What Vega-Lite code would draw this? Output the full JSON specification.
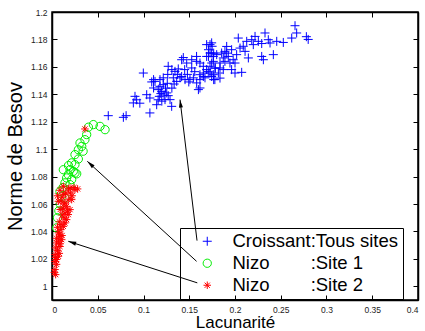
{
  "$schema": "https://vega.github.io/schema/vega-lite/v6.json",
  "width": 366,
  "height": 288,
  "autosize": "none",
  "padding": {"left": 52, "top": 12, "right": 7, "bottom": 31},
  "resolve": {"axis": {"x": "independent", "y": "independent"}},
  "config": {
    "view": {"stroke": "black", "strokeWidth": 1.5},
    "font": "Liberation Sans",
    "axis": {
      "grid": false,
      "domainColor": "black",
      "domainWidth": 1.5,
      "tickColor": "black",
      "tickWidth": 1,
      "tickSize": -5,
      "labelFont": "Liberation Sans",
      "labelFontSize": 8.5,
      "labelColor": "#222",
      "labelPadding": 10,
      "titleFont": "Liberation Sans",
      "titleFontWeight": "normal",
      "titleColor": "black"
    },
    "legend": {
      "orient": "none",
      "legendX": 128,
      "legendY": 216,
      "strokeColor": "black",
      "padding": 4,
      "labelFont": "Liberation Sans",
      "labelFontSize": 18.5,
      "labelColor": "black",
      "labelLimit": 400,
      "symbolStrokeWidth": 1,
      "symbolSize": 70,
      "rowPadding": 3,
      "symbolOffset": 14,
      "labelOffset": 16
    }
  },
  "datasets": {
    "pts": [
      {"serie":"C","lacunarite":0.0615,"besov":1.1244},
      {"serie":"C","lacunarite":0.078,"besov":1.1232},
      {"serie":"C","lacunarite":0.081,"besov":1.1244},
      {"serie":"C","lacunarite":0.0889,"besov":1.1337},
      {"serie":"C","lacunarite":0.0907,"besov":1.1385},
      {"serie":"C","lacunarite":0.0925,"besov":1.136},
      {"serie":"C","lacunarite":0.096,"besov":1.1335},
      {"serie":"C","lacunarite":0.107,"besov":1.1264},
      {"serie":"C","lacunarite":0.0998,"besov":1.1555},
      {"serie":"C","lacunarite":0.1035,"besov":1.1397},
      {"serie":"C","lacunarite":0.107,"besov":1.1373},
      {"serie":"C","lacunarite":0.111,"besov":1.1446},
      {"serie":"C","lacunarite":0.1126,"besov":1.1494},
      {"serie":"C","lacunarite":0.111,"besov":1.1507},
      {"serie":"C","lacunarite":0.109,"besov":1.149},
      {"serie":"C","lacunarite":0.1144,"besov":1.1324},
      {"serie":"C","lacunarite":0.116,"besov":1.136},
      {"serie":"C","lacunarite":0.12,"besov":1.135},
      {"serie":"C","lacunarite":0.118,"besov":1.1458},
      {"serie":"C","lacunarite":0.1199,"besov":1.1421},
      {"serie":"C","lacunarite":0.1216,"besov":1.147},
      {"serie":"C","lacunarite":0.118,"besov":1.1507},
      {"serie":"C","lacunarite":0.1173,"besov":1.1385},
      {"serie":"C","lacunarite":0.1235,"besov":1.1361},
      {"serie":"C","lacunarite":0.1254,"besov":1.141},
      {"serie":"C","lacunarite":0.1216,"besov":1.152},
      {"serie":"C","lacunarite":0.1162,"besov":1.1434},
      {"serie":"C","lacunarite":0.129,"besov":1.1361},
      {"serie":"C","lacunarite":0.1308,"besov":1.1312},
      {"serie":"C","lacunarite":0.127,"besov":1.139},
      {"serie":"C","lacunarite":0.127,"besov":1.1604},
      {"serie":"C","lacunarite":0.131,"besov":1.158},
      {"serie":"C","lacunarite":0.1344,"besov":1.1567},
      {"serie":"C","lacunarite":0.1399,"besov":1.152},
      {"serie":"C","lacunarite":0.1417,"besov":1.153},
      {"serie":"C","lacunarite":0.1454,"besov":1.1507},
      {"serie":"C","lacunarite":0.1508,"besov":1.1507},
      {"serie":"C","lacunarite":0.1545,"besov":1.152},
      {"serie":"C","lacunarite":0.1581,"besov":1.1483},
      {"serie":"C","lacunarite":0.1617,"besov":1.1507},
      {"serie":"C","lacunarite":0.1654,"besov":1.153},
      {"serie":"C","lacunarite":0.1708,"besov":1.1567},
      {"serie":"C","lacunarite":0.1727,"besov":1.1604},
      {"serie":"C","lacunarite":0.1527,"besov":1.1652},
      {"serie":"C","lacunarite":0.1581,"besov":1.164},
      {"serie":"C","lacunarite":0.1617,"besov":1.1628},
      {"serie":"C","lacunarite":0.1654,"besov":1.1604},
      {"serie":"C","lacunarite":0.169,"besov":1.1676},
      {"serie":"C","lacunarite":0.1727,"besov":1.1701},
      {"serie":"C","lacunarite":0.1417,"besov":1.1652},
      {"serie":"C","lacunarite":0.1472,"besov":1.1628},
      {"serie":"C","lacunarite":0.1527,"besov":1.1592},
      {"serie":"C","lacunarite":0.16,"besov":1.1434},
      {"serie":"C","lacunarite":0.1617,"besov":1.1543},
      {"serie":"C","lacunarite":0.1326,"besov":1.152},
      {"serie":"C","lacunarite":0.1363,"besov":1.1494},
      {"serie":"C","lacunarite":0.1435,"besov":1.1668},
      {"serie":"C","lacunarite":0.158,"besov":1.1676},
      {"serie":"C","lacunarite":0.169,"besov":1.1762},
      {"serie":"C","lacunarite":0.171,"besov":1.1725},
      {"serie":"C","lacunarite":0.171,"besov":1.1676},
      {"serie":"C","lacunarite":0.1617,"besov":1.1446},
      {"serie":"C","lacunarite":0.124,"besov":1.1445},
      {"serie":"C","lacunarite":0.126,"besov":1.148},
      {"serie":"C","lacunarite":0.1225,"besov":1.1395},
      {"serie":"C","lacunarite":0.119,"besov":1.1405},
      {"serie":"C","lacunarite":0.1335,"besov":1.1475},
      {"serie":"C","lacunarite":0.137,"besov":1.1545},
      {"serie":"C","lacunarite":0.148,"besov":1.1545},
      {"serie":"C","lacunarite":0.1495,"besov":1.149},
      {"serie":"C","lacunarite":0.156,"besov":1.1565},
      {"serie":"C","lacunarite":0.145,"besov":1.158},
      {"serie":"C","lacunarite":0.138,"besov":1.1585},
      {"serie":"C","lacunarite":0.1265,"besov":1.1545},
      {"serie":"C","lacunarite":0.131,"besov":1.1445},
      {"serie":"C","lacunarite":0.2656,"besov":1.19},
      {"serie":"C","lacunarite":0.2674,"besov":1.1847},
      {"serie":"C","lacunarite":0.278,"besov":1.182},
      {"serie":"C","lacunarite":0.28,"besov":1.18},
      {"serie":"C","lacunarite":0.262,"besov":1.181},
      {"serie":"C","lacunarite":0.2528,"besov":1.1778},
      {"serie":"C","lacunarite":0.2456,"besov":1.1786},
      {"serie":"C","lacunarite":0.2383,"besov":1.1774},
      {"serie":"C","lacunarite":0.2292,"besov":1.177},
      {"serie":"C","lacunarite":0.2328,"besov":1.1847},
      {"serie":"C","lacunarite":0.2219,"besov":1.1822},
      {"serie":"C","lacunarite":0.2183,"besov":1.1798},
      {"serie":"C","lacunarite":0.22,"besov":1.1762},
      {"serie":"C","lacunarite":0.209,"besov":1.175},
      {"serie":"C","lacunarite":0.211,"besov":1.1713},
      {"serie":"C","lacunarite":0.2036,"besov":1.181},
      {"serie":"C","lacunarite":0.2419,"besov":1.1689},
      {"serie":"C","lacunarite":0.2292,"besov":1.1676},
      {"serie":"C","lacunarite":0.231,"besov":1.1652},
      {"serie":"C","lacunarite":0.2146,"besov":1.1665},
      {"serie":"C","lacunarite":0.2073,"besov":1.156},
      {"serie":"C","lacunarite":0.2,"besov":1.1555},
      {"serie":"C","lacunarite":0.198,"besov":1.1652},
      {"serie":"C","lacunarite":0.1909,"besov":1.17},
      {"serie":"C","lacunarite":0.189,"besov":1.164},
      {"serie":"C","lacunarite":0.1872,"besov":1.158},
      {"serie":"C","lacunarite":0.178,"besov":1.1507},
      {"serie":"C","lacunarite":0.1745,"besov":1.153},
      {"serie":"C","lacunarite":0.1745,"besov":1.1775},
      {"serie":"C","lacunarite":0.1727,"besov":1.1762},
      {"serie":"C","lacunarite":0.1745,"besov":1.1701},
      {"serie":"C","lacunarite":0.1763,"besov":1.1676},
      {"serie":"C","lacunarite":0.18,"besov":1.1689},
      {"serie":"C","lacunarite":0.1745,"besov":1.1628},
      {"serie":"C","lacunarite":0.1763,"besov":1.164},
      {"serie":"C","lacunarite":0.1836,"besov":1.1628},
      {"serie":"C","lacunarite":0.169,"besov":1.158},
      {"serie":"C","lacunarite":0.1654,"besov":1.1555},
      {"serie":"C","lacunarite":0.1727,"besov":1.1555},
      {"serie":"C","lacunarite":0.1836,"besov":1.1592},
      {"serie":"C","lacunarite":0.1763,"besov":1.1543},
      {"serie":"C","lacunarite":0.1836,"besov":1.1518},
      {"serie":"C","lacunarite":0.1672,"besov":1.152},
      {"serie":"C","lacunarite":0.189,"besov":1.1713},
      {"serie":"C","lacunarite":0.1909,"besov":1.1749},
      {"serie":"C","lacunarite":0.1927,"besov":1.1676},
      {"serie":"C","lacunarite":0.1945,"besov":1.1628},
      {"serie":"C","lacunarite":0.1872,"besov":1.1665},
      {"serie":"C","lacunarite":0.1854,"besov":1.1701},
      {"serie":"C","lacunarite":0.1963,"besov":1.1725},
      {"serie":"C","lacunarite":0.2018,"besov":1.1689},
      {"serie":"C","lacunarite":0.2055,"besov":1.1737},
      {"serie":"C","lacunarite":0.2128,"besov":1.1786},
      {"serie":"C","lacunarite":0.2255,"besov":1.1786},
      {"serie":"C","lacunarite":0.2364,"besov":1.1798},
      {"serie":"C","lacunarite":0.1818,"besov":1.1555},
      {"serie":"C","lacunarite":0.1781,"besov":1.1592},
      {"serie":"C","lacunarite":0.1963,"besov":1.158},
      {"serie":"C","lacunarite":0.2,"besov":1.1628},
      {"serie":"C","lacunarite":0.175,"besov":1.175},
      {"serie":"C","lacunarite":0.1767,"besov":1.17},
      {"serie":"C","lacunarite":0.1785,"besov":1.159},
      {"serie":"C","lacunarite":0.1767,"besov":1.1507},
      {"serie":"N1","lacunarite":0.0452,"besov":1.1179},
      {"serie":"N1","lacunarite":0.0525,"besov":1.1166},
      {"serie":"N1","lacunarite":0.058,"besov":1.1142},
      {"serie":"N1","lacunarite":0.0398,"besov":1.116},
      {"serie":"N1","lacunarite":0.0379,"besov":1.1106},
      {"serie":"N1","lacunarite":0.036,"besov":1.1069},
      {"serie":"N1","lacunarite":0.0306,"besov":1.1045},
      {"serie":"N1","lacunarite":0.0325,"besov":1.102},
      {"serie":"N1","lacunarite":0.0288,"besov":1.0996},
      {"serie":"N1","lacunarite":0.034,"besov":1.0985},
      {"serie":"N1","lacunarite":0.0251,"besov":1.096},
      {"serie":"N1","lacunarite":0.0288,"besov":1.0928},
      {"serie":"N1","lacunarite":0.0215,"besov":1.09},
      {"serie":"N1","lacunarite":0.0251,"besov":1.0887},
      {"serie":"N1","lacunarite":0.0197,"besov":1.085},
      {"serie":"N1","lacunarite":0.0233,"besov":1.0838},
      {"serie":"N1","lacunarite":0.0178,"besov":1.0814},
      {"serie":"N1","lacunarite":0.0251,"besov":1.0826},
      {"serie":"N1","lacunarite":0.016,"besov":1.079},
      {"serie":"N1","lacunarite":0.0215,"besov":1.0778},
      {"serie":"N1","lacunarite":0.0142,"besov":1.0754},
      {"serie":"N1","lacunarite":0.0197,"besov":1.0741},
      {"serie":"N1","lacunarite":0.012,"besov":1.072},
      {"serie":"N1","lacunarite":0.0087,"besov":1.0692},
      {"serie":"N1","lacunarite":0.0106,"besov":1.0656},
      {"serie":"N1","lacunarite":0.0142,"besov":1.0644},
      {"serie":"N1","lacunarite":0.009,"besov":1.06},
      {"serie":"N1","lacunarite":0.0075,"besov":1.055},
      {"serie":"N1","lacunarite":0.006,"besov":1.05},
      {"serie":"N1","lacunarite":0.005,"besov":1.0426},
      {"serie":"N1","lacunarite":0.0124,"besov":1.085},
      {"serie":"N1","lacunarite":0.018,"besov":1.088},
      {"serie":"N1","lacunarite":0.027,"besov":1.082},
      {"serie":"N2","lacunarite":0.036,"besov":1.1147},
      {"serie":"N2","lacunarite":0.0124,"besov":1.0729},
      {"serie":"N2","lacunarite":0.0197,"besov":1.0717},
      {"serie":"N2","lacunarite":0.0251,"besov":1.0705},
      {"serie":"N2","lacunarite":0.0087,"besov":1.07},
      {"serie":"N2","lacunarite":0.015,"besov":1.068},
      {"serie":"N2","lacunarite":0.022,"besov":1.066},
      {"serie":"N2","lacunarite":0.011,"besov":1.065},
      {"serie":"N2","lacunarite":0.0178,"besov":1.063},
      {"serie":"N2","lacunarite":0.0069,"besov":1.062},
      {"serie":"N2","lacunarite":0.013,"besov":1.06},
      {"serie":"N2","lacunarite":0.0215,"besov":1.0632},
      {"serie":"N2","lacunarite":0.016,"besov":1.0583},
      {"serie":"N2","lacunarite":0.0142,"besov":1.0608},
      {"serie":"N2","lacunarite":0.0197,"besov":1.0559},
      {"serie":"N2","lacunarite":0.0142,"besov":1.0535},
      {"serie":"N2","lacunarite":0.0178,"besov":1.0523},
      {"serie":"N2","lacunarite":0.016,"besov":1.0486},
      {"serie":"N2","lacunarite":0.0142,"besov":1.0462},
      {"serie":"N2","lacunarite":0.0124,"besov":1.0437},
      {"serie":"N2","lacunarite":0.0098,"besov":1.0413},
      {"serie":"N2","lacunarite":0.007,"besov":1.039},
      {"serie":"N2","lacunarite":0.0087,"besov":1.0364},
      {"serie":"N2","lacunarite":0.0106,"besov":1.034},
      {"serie":"N2","lacunarite":0.005,"besov":1.0316},
      {"serie":"N2","lacunarite":0.0087,"besov":1.029},
      {"serie":"N2","lacunarite":0.007,"besov":1.0219},
      {"serie":"N2","lacunarite":0.0033,"besov":1.0231},
      {"serie":"N2","lacunarite":0.005,"besov":1.0195},
      {"serie":"N2","lacunarite":0.0033,"besov":1.0122},
      {"serie":"N2","lacunarite":0.004,"besov":1.0085},
      {"serie":"N2","lacunarite":0.0025,"besov":1.0102},
      {"serie":"N2","lacunarite":0.009,"besov":1.056},
      {"serie":"N2","lacunarite":0.011,"besov":1.052},
      {"serie":"N2","lacunarite":0.013,"besov":1.05},
      {"serie":"N2","lacunarite":0.008,"besov":1.047},
      {"serie":"N2","lacunarite":0.01,"besov":1.045},
      {"serie":"N2","lacunarite":0.006,"besov":1.043},
      {"serie":"N2","lacunarite":0.008,"besov":1.038},
      {"serie":"N2","lacunarite":0.011,"besov":1.037},
      {"serie":"N2","lacunarite":0.005,"besov":1.035},
      {"serie":"N2","lacunarite":0.007,"besov":1.033},
      {"serie":"N2","lacunarite":0.009,"besov":1.031},
      {"serie":"N2","lacunarite":0.004,"besov":1.028},
      {"serie":"N2","lacunarite":0.006,"besov":1.026},
      {"serie":"N2","lacunarite":0.008,"besov":1.024},
      {"serie":"N2","lacunarite":0.004,"besov":1.021},
      {"serie":"N2","lacunarite":0.003,"besov":1.018},
      {"serie":"N2","lacunarite":0.005,"besov":1.016},
      {"serie":"N2","lacunarite":0.012,"besov":1.057},
      {"serie":"N2","lacunarite":0.017,"besov":1.055},
      {"serie":"N2","lacunarite":0.02,"besov":1.068},
      {"serie":"N2","lacunarite":0.024,"besov":1.072},
      {"serie":"N2","lacunarite":0.028,"besov":1.071},
      {"serie":"N2","lacunarite":0.01,"besov":1.062},
      {"serie":"N2","lacunarite":0.013,"besov":1.067},
      {"serie":"N2","lacunarite":0.018,"besov":1.071},
      {"serie":"N2","lacunarite":0.006,"besov":1.066}
    ],
    "arrows": [
      {"id":1,"x0":0.1585,"y0":1.0333,"x1":0.1399,"y1":1.1361},
      {"id":2,"x0":0.158,"y0":1.0182,"x1":0.0386,"y1":1.0911},
      {"id":3,"x0":0.1588,"y0":1.0025,"x1":0.0178,"y1":1.0328}
    ]
  },
  "layer": [
    {
      "data": {"name": "pts"},
      "mark": {"type": "point", "filled": false, "strokeWidth": 1, "opacity": 1},
      "encoding": {
        "x": {"field": "lacunarite", "type": "quantitative",
              "scale": {"domain": [0, 0.4], "nice": false, "zero": false},
              "axis": {"orient": "bottom", "values": [0,0.05,0.1,0.15,0.2,0.25,0.3,0.35,0.4], "format": "~g",
                       "title": "Lacunarité", "titleFontSize": 17, "titlePadding": 1}},
        "y": {"field": "besov", "type": "quantitative",
              "scale": {"domain": [0.99, 1.2], "nice": false, "zero": false},
              "axis": {"orient": "left", "values": [1,1.02,1.04,1.06,1.08,1.1,1.12,1.14,1.16,1.18,1.2], "format": "~g",
                       "title": "Norme de Besov", "titleFontSize": 20, "titlePadding": 5}},
        "color": {"field": "serie", "type": "nominal",
                  "scale": {"domain": ["C","N1","N2"], "range": ["#0000ff","#00ee00","#ff0000"]},
                  "legend": {"title": null,
                             "labelExpr": "datum.value == 'C' ? 'Croissant:Tous sites\u00a0\u00a0\u00a0' : datum.value == 'N1' ? 'Nizo\u00a0\u00a0\u00a0\u00a0\u00a0\u00a0\u00a0\u00a0:Site 1' : 'Nizo\u00a0\u00a0\u00a0\u00a0\u00a0\u00a0\u00a0\u00a0:Site 2'"}},
        "shape": {"field": "serie", "type": "nominal",
                  "scale": {"domain": ["C","N1","N2"], "range": ["M-1,0H1M0,-1V1", "circle", "M-1,0H1M0,-1V1M-0.7,-0.7L0.7,0.7M-0.7,0.7L0.7,-0.7"]}},
        "size": {"field": "serie", "type": "nominal",
                 "scale": {"domain": ["C","N1","N2"], "range": [81, 56, 49]}, "legend": null}
      }
    },
    {
      "data": {"name": "arrows"},
      "mark": {"type": "rule", "color": "black", "strokeWidth": 1},
      "encoding": {
        "x": {"field": "x0", "type": "quantitative", "axis": null},
        "y": {"field": "y0", "type": "quantitative", "axis": null},
        "x2": {"field": "x1"},
        "y2": {"field": "y1"}
      }
    },
    {
      "data": {"name": "arrows"},
      "transform": [{"filter": "datum.id == 1"}],
      "mark": {"type": "point", "shape": "M0,0L-0.55,2.2L0.55,2.2Z", "filled": true, "color": "black", "opacity": 1, "size": 52, "angle": 353},
      "encoding": {"x": {"field": "x1", "type": "quantitative", "axis": null}, "y": {"field": "y1", "type": "quantitative", "axis": null}}
    },
    {
      "data": {"name": "arrows"},
      "transform": [{"filter": "datum.id == 2"}],
      "mark": {"type": "point", "shape": "M0,0L-0.55,2.2L0.55,2.2Z", "filled": true, "color": "black", "opacity": 1, "size": 52, "angle": 312},
      "encoding": {"x": {"field": "x1", "type": "quantitative", "axis": null}, "y": {"field": "y1", "type": "quantitative", "axis": null}}
    },
    {
      "data": {"name": "arrows"},
      "transform": [{"filter": "datum.id == 3"}],
      "mark": {"type": "point", "shape": "M0,0L-0.55,2.2L0.55,2.2Z", "filled": true, "color": "black", "opacity": 1, "size": 52, "angle": 288},
      "encoding": {"x": {"field": "x1", "type": "quantitative", "axis": null}, "y": {"field": "y1", "type": "quantitative", "axis": null}}
    },
    {
      "data": {"name": "pts"},
      "mark": {"type": "point", "opacity": 0},
      "encoding": {
        "x": {"field": "lacunarite", "type": "quantitative",
              "axis": {"values": [0,0.05,0.1,0.15,0.2,0.25,0.3,0.35,0.4], "labels": false, "title": null}},
        "y": {"field": "besov", "type": "quantitative",
              "axis": {"values": [1,1.02,1.04,1.06,1.08,1.1,1.12,1.14,1.16,1.18,1.2], "labels": false, "title": null}}
      }
    }
  ]
}
